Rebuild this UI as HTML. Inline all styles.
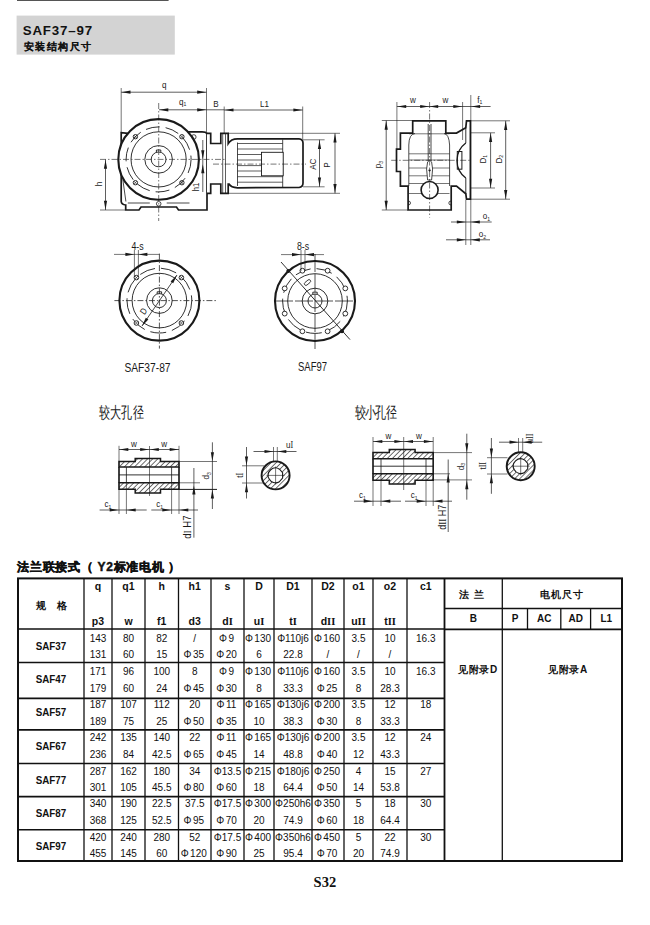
<!DOCTYPE html>
<html><head><meta charset="utf-8"><style>
html,body{margin:0;padding:0;background:#fff;}
body{width:650px;height:925px;overflow:hidden;font-family:"Liberation Sans",sans-serif;}
svg{display:block;}
</style></head><body>
<svg width="650" height="925" viewBox="0 0 650 925">
<g stroke="#111" fill="none">
<rect x="18" y="578.4" width="604" height="282.6" stroke-width="2"/>
<line x1="84" y1="578.4" x2="84" y2="861" stroke-width="1.3"/>
<line x1="112" y1="578.4" x2="112" y2="861" stroke-width="1.3"/>
<line x1="145" y1="578.4" x2="145" y2="861" stroke-width="1.3"/>
<line x1="178.5" y1="578.4" x2="178.5" y2="861" stroke-width="1.3"/>
<line x1="211" y1="578.4" x2="211" y2="861" stroke-width="1.3"/>
<line x1="244" y1="578.4" x2="244" y2="861" stroke-width="1.3"/>
<line x1="274" y1="578.4" x2="274" y2="861" stroke-width="1.3"/>
<line x1="312" y1="578.4" x2="312" y2="861" stroke-width="1.3"/>
<line x1="344" y1="578.4" x2="344" y2="861" stroke-width="1.3"/>
<line x1="373" y1="578.4" x2="373" y2="861" stroke-width="1.3"/>
<line x1="407" y1="578.4" x2="407" y2="861" stroke-width="1.3"/>
<line x1="444.5" y1="578.4" x2="444.5" y2="861" stroke-width="1.3"/>
<line x1="444.5" y1="578.4" x2="444.5" y2="861" stroke-width="1.6"/>
<line x1="502.3" y1="578.4" x2="502.3" y2="861" stroke-width="1.3"/>
<line x1="18" y1="629" x2="444.5" y2="629" stroke-width="1.6"/>
<line x1="18" y1="662.5" x2="444.5" y2="662.5" stroke-width="1.6"/>
<line x1="18" y1="698.4" x2="444.5" y2="698.4" stroke-width="1.6"/>
<line x1="18" y1="729.9" x2="444.5" y2="729.9" stroke-width="1.6"/>
<line x1="18" y1="763.5" x2="444.5" y2="763.5" stroke-width="1.6"/>
<line x1="18" y1="796.6" x2="444.5" y2="796.6" stroke-width="1.6"/>
<line x1="18" y1="829.7" x2="444.5" y2="829.7" stroke-width="1.6"/>
<line x1="444.5" y1="629.4" x2="622" y2="629.4" stroke-width="1.6"/>
<line x1="444.5" y1="608.5" x2="622" y2="608.5" stroke-width="1.3"/>
<line x1="527.5" y1="608.5" x2="527.5" y2="629.4" stroke-width="1.3"/>
<line x1="560.8" y1="608.5" x2="560.8" y2="629.4" stroke-width="1.3"/>
<line x1="590.6" y1="608.5" x2="590.6" y2="629.4" stroke-width="1.3"/>
</g>
<g font-family="Liberation Sans, sans-serif" fill="#111" text-anchor="middle">
<text x="41" y="609" font-size="10" font-weight="bold">规</text>
<text x="61.8" y="609" font-size="10" font-weight="bold">格</text>
<text x="98.0" y="590" font-size="10.5" font-weight="bold">q</text>
<text x="98.0" y="624.7" font-size="10.5" font-weight="bold">p3</text>
<text x="128.5" y="590" font-size="10.5" font-weight="bold">q1</text>
<text x="128.5" y="624.7" font-size="10.5" font-weight="bold">w</text>
<text x="161.75" y="590" font-size="10.5" font-weight="bold">h</text>
<text x="161.75" y="624.7" font-size="10.5" font-weight="bold">f1</text>
<text x="194.75" y="590" font-size="10.5" font-weight="bold">h1</text>
<text x="194.75" y="624.7" font-size="10.5" font-weight="bold">d3</text>
<text x="227.5" y="590" font-size="10.5" font-weight="bold">s</text>
<text x="227.5" y="624.7" font-size="10.5" font-weight="bold">d<tspan font-family='Liberation Serif, serif'>I</tspan></text>
<text x="259.0" y="590" font-size="10.5" font-weight="bold">D</text>
<text x="259.0" y="624.7" font-size="10.5" font-weight="bold">u<tspan font-family='Liberation Serif, serif'>I</tspan></text>
<text x="293.0" y="590" font-size="10.5" font-weight="bold">D1</text>
<text x="293.0" y="624.7" font-size="10.5" font-weight="bold">t<tspan font-family='Liberation Serif, serif'>I</tspan></text>
<text x="328.0" y="590" font-size="10.5" font-weight="bold">D2</text>
<text x="328.0" y="624.7" font-size="10.5" font-weight="bold">d<tspan font-family='Liberation Serif, serif'>II</tspan></text>
<text x="358.5" y="590" font-size="10.5" font-weight="bold">o1</text>
<text x="358.5" y="624.7" font-size="10.5" font-weight="bold">u<tspan font-family='Liberation Serif, serif'>II</tspan></text>
<text x="390.0" y="590" font-size="10.5" font-weight="bold">o2</text>
<text x="390.0" y="624.7" font-size="10.5" font-weight="bold">t<tspan font-family='Liberation Serif, serif'>II</tspan></text>
<text x="425.75" y="590" font-size="10.5" font-weight="bold">c1</text>
<text x="473.5" y="598" font-size="10" font-weight="bold" letter-spacing="5">法兰</text>
<text x="562" y="598" font-size="10" font-weight="bold" letter-spacing="1">电机尺寸</text>
<text x="473.4" y="622.3" font-size="10" font-weight="bold">B</text>
<text x="515" y="622.3" font-size="10" font-weight="bold">P</text>
<text x="544.2" y="622.3" font-size="10" font-weight="bold">AC</text>
<text x="575.7" y="622.3" font-size="10" font-weight="bold">AD</text>
<text x="606.3" y="622.3" font-size="10" font-weight="bold">L1</text>
<text x="478" y="673" font-size="10" font-weight="bold" letter-spacing="0.6">见附录D</text>
<text x="568" y="673" font-size="10" font-weight="bold" letter-spacing="0.6">见附录A</text>
<text x="51" y="649.5" font-size="10" font-weight="bold" textLength="30.5" lengthAdjust="spacingAndGlyphs">SAF37</text>
<text x="98.0" y="641.5" font-size="10">143</text>
<text x="98.0" y="658.4" font-size="10">131</text>
<text x="128.5" y="641.5" font-size="10">80</text>
<text x="128.5" y="658.4" font-size="10">60</text>
<text x="161.75" y="641.5" font-size="10">82</text>
<text x="161.75" y="658.4" font-size="10">15</text>
<text x="194.75" y="641.5" font-size="10">/</text>
<text x="193.75" y="658.4" font-size="10">Φ<tspan dx="1.4">35</tspan></text>
<text x="226.5" y="641.5" font-size="10">Φ<tspan dx="1.4">9</tspan></text>
<text x="226.5" y="658.4" font-size="10">Φ<tspan dx="1.4">20</tspan></text>
<text x="258.0" y="641.5" font-size="10">Φ<tspan dx="1.4">130</tspan></text>
<text x="259.0" y="658.4" font-size="10">6</text>
<text x="293.0" y="641.5" font-size="10">Φ110j6</text>
<text x="293.0" y="658.4" font-size="10">22.8</text>
<text x="327.0" y="641.5" font-size="10">Φ<tspan dx="1.4">160</tspan></text>
<text x="328.0" y="658.4" font-size="10">/</text>
<text x="358.5" y="641.5" font-size="10">3.5</text>
<text x="358.5" y="658.4" font-size="10">/</text>
<text x="390.0" y="641.5" font-size="10">10</text>
<text x="390.0" y="658.4" font-size="10">/</text>
<text x="425.75" y="641.5" font-size="10">16.3</text>
<text x="51" y="682.8" font-size="10" font-weight="bold" textLength="30.5" lengthAdjust="spacingAndGlyphs">SAF47</text>
<text x="98.0" y="674.8" font-size="10">171</text>
<text x="98.0" y="691.6" font-size="10">179</text>
<text x="128.5" y="674.8" font-size="10">96</text>
<text x="128.5" y="691.6" font-size="10">60</text>
<text x="161.75" y="674.8" font-size="10">100</text>
<text x="161.75" y="691.6" font-size="10">24</text>
<text x="194.75" y="674.8" font-size="10">8</text>
<text x="193.75" y="691.6" font-size="10">Φ<tspan dx="1.4">45</tspan></text>
<text x="226.5" y="674.8" font-size="10">Φ<tspan dx="1.4">9</tspan></text>
<text x="226.5" y="691.6" font-size="10">Φ<tspan dx="1.4">30</tspan></text>
<text x="258.0" y="674.8" font-size="10">Φ<tspan dx="1.4">130</tspan></text>
<text x="259.0" y="691.6" font-size="10">8</text>
<text x="293.0" y="674.8" font-size="10">Φ110j6</text>
<text x="293.0" y="691.6" font-size="10">33.3</text>
<text x="327.0" y="674.8" font-size="10">Φ<tspan dx="1.4">160</tspan></text>
<text x="327.0" y="691.6" font-size="10">Φ<tspan dx="1.4">25</tspan></text>
<text x="358.5" y="674.8" font-size="10">3.5</text>
<text x="358.5" y="691.6" font-size="10">8</text>
<text x="390.0" y="674.8" font-size="10">10</text>
<text x="390.0" y="691.6" font-size="10">28.3</text>
<text x="425.75" y="674.8" font-size="10">16.3</text>
<text x="51" y="716" font-size="10" font-weight="bold" textLength="30.5" lengthAdjust="spacingAndGlyphs">SAF57</text>
<text x="98.0" y="708.3" font-size="10">187</text>
<text x="98.0" y="724.7" font-size="10">189</text>
<text x="128.5" y="708.3" font-size="10">107</text>
<text x="128.5" y="724.7" font-size="10">75</text>
<text x="161.75" y="708.3" font-size="10">112</text>
<text x="161.75" y="724.7" font-size="10">25</text>
<text x="194.75" y="708.3" font-size="10">20</text>
<text x="193.75" y="724.7" font-size="10">Φ<tspan dx="1.4">50</tspan></text>
<text x="226.5" y="708.3" font-size="10">Φ<tspan dx="1.4">11</tspan></text>
<text x="226.5" y="724.7" font-size="10">Φ<tspan dx="1.4">35</tspan></text>
<text x="258.0" y="708.3" font-size="10">Φ<tspan dx="1.4">165</tspan></text>
<text x="259.0" y="724.7" font-size="10">10</text>
<text x="293.0" y="708.3" font-size="10">Φ130j6</text>
<text x="293.0" y="724.7" font-size="10">38.3</text>
<text x="327.0" y="708.3" font-size="10">Φ<tspan dx="1.4">200</tspan></text>
<text x="327.0" y="724.7" font-size="10">Φ<tspan dx="1.4">30</tspan></text>
<text x="358.5" y="708.3" font-size="10">3.5</text>
<text x="358.5" y="724.7" font-size="10">8</text>
<text x="390.0" y="708.3" font-size="10">12</text>
<text x="390.0" y="724.7" font-size="10">33.3</text>
<text x="425.75" y="708.3" font-size="10">18</text>
<text x="51" y="750" font-size="10" font-weight="bold" textLength="30.5" lengthAdjust="spacingAndGlyphs">SAF67</text>
<text x="98.0" y="741.4" font-size="10">242</text>
<text x="98.0" y="757.9" font-size="10">236</text>
<text x="128.5" y="741.4" font-size="10">135</text>
<text x="128.5" y="757.9" font-size="10">84</text>
<text x="161.75" y="741.4" font-size="10">140</text>
<text x="161.75" y="757.9" font-size="10">42.5</text>
<text x="194.75" y="741.4" font-size="10">22</text>
<text x="193.75" y="757.9" font-size="10">Φ<tspan dx="1.4">65</tspan></text>
<text x="226.5" y="741.4" font-size="10">Φ<tspan dx="1.4">11</tspan></text>
<text x="226.5" y="757.9" font-size="10">Φ<tspan dx="1.4">45</tspan></text>
<text x="258.0" y="741.4" font-size="10">Φ<tspan dx="1.4">165</tspan></text>
<text x="259.0" y="757.9" font-size="10">14</text>
<text x="293.0" y="741.4" font-size="10">Φ130j6</text>
<text x="293.0" y="757.9" font-size="10">48.8</text>
<text x="327.0" y="741.4" font-size="10">Φ<tspan dx="1.4">200</tspan></text>
<text x="327.0" y="757.9" font-size="10">Φ<tspan dx="1.4">40</tspan></text>
<text x="358.5" y="741.4" font-size="10">3.5</text>
<text x="358.5" y="757.9" font-size="10">12</text>
<text x="390.0" y="741.4" font-size="10">12</text>
<text x="390.0" y="757.9" font-size="10">43.3</text>
<text x="425.75" y="741.4" font-size="10">24</text>
<text x="51" y="784" font-size="10" font-weight="bold" textLength="30.5" lengthAdjust="spacingAndGlyphs">SAF77</text>
<text x="98.0" y="774.6" font-size="10">287</text>
<text x="98.0" y="791.3" font-size="10">301</text>
<text x="128.5" y="774.6" font-size="10">162</text>
<text x="128.5" y="791.3" font-size="10">105</text>
<text x="161.75" y="774.6" font-size="10">180</text>
<text x="161.75" y="791.3" font-size="10">45.5</text>
<text x="194.75" y="774.6" font-size="10">34</text>
<text x="193.75" y="791.3" font-size="10">Φ<tspan dx="1.4">80</tspan></text>
<text x="227.5" y="774.6" font-size="10">Φ13.5</text>
<text x="226.5" y="791.3" font-size="10">Φ<tspan dx="1.4">60</tspan></text>
<text x="258.0" y="774.6" font-size="10">Φ<tspan dx="1.4">215</tspan></text>
<text x="259.0" y="791.3" font-size="10">18</text>
<text x="293.0" y="774.6" font-size="10">Φ180j6</text>
<text x="293.0" y="791.3" font-size="10">64.4</text>
<text x="327.0" y="774.6" font-size="10">Φ<tspan dx="1.4">250</tspan></text>
<text x="327.0" y="791.3" font-size="10">Φ<tspan dx="1.4">50</tspan></text>
<text x="358.5" y="774.6" font-size="10">4</text>
<text x="358.5" y="791.3" font-size="10">14</text>
<text x="390.0" y="774.6" font-size="10">15</text>
<text x="390.0" y="791.3" font-size="10">53.8</text>
<text x="425.75" y="774.6" font-size="10">27</text>
<text x="51" y="817" font-size="10" font-weight="bold" textLength="30.5" lengthAdjust="spacingAndGlyphs">SAF87</text>
<text x="98.0" y="807.4" font-size="10">340</text>
<text x="98.0" y="823.8" font-size="10">368</text>
<text x="128.5" y="807.4" font-size="10">190</text>
<text x="128.5" y="823.8" font-size="10">125</text>
<text x="161.75" y="807.4" font-size="10">22.5</text>
<text x="161.75" y="823.8" font-size="10">52.5</text>
<text x="194.75" y="807.4" font-size="10">37.5</text>
<text x="193.75" y="823.8" font-size="10">Φ<tspan dx="1.4">95</tspan></text>
<text x="227.5" y="807.4" font-size="10">Φ17.5</text>
<text x="226.5" y="823.8" font-size="10">Φ<tspan dx="1.4">70</tspan></text>
<text x="258.0" y="807.4" font-size="10">Φ<tspan dx="1.4">300</tspan></text>
<text x="259.0" y="823.8" font-size="10">20</text>
<text x="293.0" y="807.4" font-size="10">Φ250h6</text>
<text x="293.0" y="823.8" font-size="10">74.9</text>
<text x="327.0" y="807.4" font-size="10">Φ<tspan dx="1.4">350</tspan></text>
<text x="327.0" y="823.8" font-size="10">Φ<tspan dx="1.4">60</tspan></text>
<text x="358.5" y="807.4" font-size="10">5</text>
<text x="358.5" y="823.8" font-size="10">18</text>
<text x="390.0" y="807.4" font-size="10">18</text>
<text x="390.0" y="823.8" font-size="10">64.4</text>
<text x="425.75" y="807.4" font-size="10">30</text>
<text x="51" y="850" font-size="10" font-weight="bold" textLength="30.5" lengthAdjust="spacingAndGlyphs">SAF97</text>
<text x="98.0" y="840.9" font-size="10">420</text>
<text x="98.0" y="857.3" font-size="10">455</text>
<text x="128.5" y="840.9" font-size="10">240</text>
<text x="128.5" y="857.3" font-size="10">145</text>
<text x="161.75" y="840.9" font-size="10">280</text>
<text x="161.75" y="857.3" font-size="10">60</text>
<text x="194.75" y="840.9" font-size="10">52</text>
<text x="193.75" y="857.3" font-size="10">Φ<tspan dx="1.4">120</tspan></text>
<text x="227.5" y="840.9" font-size="10">Φ17.5</text>
<text x="226.5" y="857.3" font-size="10">Φ<tspan dx="1.4">90</tspan></text>
<text x="258.0" y="840.9" font-size="10">Φ<tspan dx="1.4">400</tspan></text>
<text x="259.0" y="857.3" font-size="10">25</text>
<text x="293.0" y="840.9" font-size="10">Φ350h6</text>
<text x="293.0" y="857.3" font-size="10">95.4</text>
<text x="327.0" y="840.9" font-size="10">Φ<tspan dx="1.4">450</tspan></text>
<text x="327.0" y="857.3" font-size="10">Φ<tspan dx="1.4">70</tspan></text>
<text x="358.5" y="840.9" font-size="10">5</text>
<text x="358.5" y="857.3" font-size="10">20</text>
<text x="390.0" y="840.9" font-size="10">22</text>
<text x="390.0" y="857.3" font-size="10">74.9</text>
<text x="425.75" y="840.9" font-size="10">30</text>
</g>
<line x1="17" y1="0.5" x2="168.6" y2="0.5" stroke="#555" stroke-width="1.2"/>
<rect x="16.6" y="15.6" width="158.2" height="39" fill="#d3d3d3"/>
<text x="22.7" y="35.2" font-family="Liberation Sans, sans-serif" font-size="13.3" font-weight="bold" fill="#111" letter-spacing="0.85">SAF37–97</text>
<text x="23.8" y="49.5" font-family="Liberation Sans, sans-serif" font-size="9.5" font-weight="bold" fill="#111" stroke="#111" stroke-width="0.1" letter-spacing="1.5">安装结构尺寸</text>
<text x="17.3" y="570.5" font-family="Liberation Sans, sans-serif" font-size="12" font-weight="bold" fill="#111" stroke="#111" stroke-width="0.45" letter-spacing="0.7">法兰联接式（ Y2标准电机 ）</text>
<text x="313.6" y="887" font-family="Liberation Serif, serif" font-size="14.5" font-weight="bold" fill="#111">S32</text>
<path d="M128.2 133.3 L121.2 132.6 L121.2 201.5 Q121.5 204.5 125.7 205 L125.7 210 L139 210 L141 207 L176.5 207 L178.5 210 L207 210 L207 133.6 Q206 131.9 202 131.9 L187.8 131.9" stroke="#1a1a1a" stroke-width="1.7" fill="#fff" />
<line x1="122.8" y1="179.4" x2="125.9" y2="201.5" stroke="#1a1a1a" stroke-width="0.8"/>
<circle cx="158.6" cy="159.4" r="40.3" stroke="#1a1a1a" stroke-width="2.1" fill="#fff"/>
<circle cx="158.6" cy="159.4" r="27.6" stroke="#1a1a1a" stroke-width="0.9" fill="none"/>
<circle cx="158.6" cy="159.4" r="32.5" stroke="#1a1a1a" stroke-width="0.9" fill="none" stroke-dasharray="14 6"/>
<circle cx="158.6" cy="159.4" r="13.8" stroke="#1a1a1a" stroke-width="0.9" fill="none"/>
<circle cx="158.6" cy="159.4" r="7.4" stroke="#1a1a1a" stroke-width="0.9" fill="none"/>
<path d="M156.4 152.2 L156.4 150 L160.8 150 L160.8 152.2" stroke="#1a1a1a" stroke-width="0.9" fill="none" />
<circle cx="135.4" cy="136.7" r="2.2" stroke="#1a1a1a" stroke-width="0.9" fill="none"/>
<line x1="133.8" y1="135.1" x2="137.0" y2="138.3" stroke="#1a1a1a" stroke-width="0.6"/>
<line x1="133.8" y1="138.3" x2="137.0" y2="135.1" stroke="#1a1a1a" stroke-width="0.6"/>
<circle cx="181.9" cy="136.7" r="2.2" stroke="#1a1a1a" stroke-width="0.9" fill="none"/>
<line x1="180.3" y1="135.1" x2="183.5" y2="138.3" stroke="#1a1a1a" stroke-width="0.6"/>
<line x1="180.3" y1="138.3" x2="183.5" y2="135.1" stroke="#1a1a1a" stroke-width="0.6"/>
<circle cx="135.4" cy="182.7" r="2.2" stroke="#1a1a1a" stroke-width="0.9" fill="none"/>
<line x1="133.8" y1="181.1" x2="137.0" y2="184.3" stroke="#1a1a1a" stroke-width="0.6"/>
<line x1="133.8" y1="184.3" x2="137.0" y2="181.1" stroke="#1a1a1a" stroke-width="0.6"/>
<circle cx="181.9" cy="182.7" r="2.2" stroke="#1a1a1a" stroke-width="0.9" fill="none"/>
<line x1="180.3" y1="181.1" x2="183.5" y2="184.3" stroke="#1a1a1a" stroke-width="0.6"/>
<line x1="180.3" y1="184.3" x2="183.5" y2="181.1" stroke="#1a1a1a" stroke-width="0.6"/>
<circle cx="193.8" cy="137.0" r="2.3" stroke="#1a1a1a" stroke-width="0.8" fill="none"/>
<circle cx="158.7" cy="203.8" r="2.3" stroke="#1a1a1a" stroke-width="0.8" fill="none"/>
<line x1="127.8" y1="203.0" x2="149.8" y2="203.0" stroke="#1a1a1a" stroke-width="0.8"/>
<line x1="166.7" y1="203.0" x2="189.5" y2="203.0" stroke="#1a1a1a" stroke-width="0.8"/>
<path d="M207 133.3 L210.7 133.3 L210.7 143.5 L220.8 143.5 L220.8 133.3 L228.2 133.3 L228.2 143.5 Q231 138.8 237.5 138.8 L299 138.8 Q303 139 303 143 L303 183 Q303 187 299 187.5 L237.5 187.8 Q231 187.5 229 184 L228.2 184 L228.2 193.3 L220.8 193.3 L220.8 184 L210.7 184 L210.7 193.3 L207 193.3" stroke="#1a1a1a" stroke-width="1.7" fill="#fff" />
<line x1="222.7" y1="134.0" x2="222.7" y2="193.0" stroke="#1a1a1a" stroke-width="0.7"/>
<line x1="225.5" y1="134.0" x2="225.5" y2="193.0" stroke="#1a1a1a" stroke-width="0.7"/>
<line x1="237.5" y1="142.5" x2="237.5" y2="186.0" stroke="#1a1a1a" stroke-width="0.8"/>
<line x1="237.5" y1="143.5" x2="282.7" y2="143.5" stroke="#1a1a1a" stroke-width="0.7"/>
<line x1="237.5" y1="149.0" x2="282.7" y2="149.0" stroke="#1a1a1a" stroke-width="0.7"/>
<line x1="237.5" y1="154.5" x2="282.7" y2="154.5" stroke="#1a1a1a" stroke-width="0.7"/>
<line x1="237.5" y1="160.0" x2="282.7" y2="160.0" stroke="#1a1a1a" stroke-width="0.7"/>
<line x1="237.5" y1="165.6" x2="282.7" y2="165.6" stroke="#1a1a1a" stroke-width="0.7"/>
<line x1="237.5" y1="171.0" x2="282.7" y2="171.0" stroke="#1a1a1a" stroke-width="0.7"/>
<line x1="237.5" y1="176.7" x2="282.7" y2="176.7" stroke="#1a1a1a" stroke-width="0.7"/>
<line x1="237.5" y1="182.2" x2="282.7" y2="182.2" stroke="#1a1a1a" stroke-width="0.7"/>
<line x1="282.7" y1="139.5" x2="282.7" y2="187.0" stroke="#1a1a1a" stroke-width="0.8"/>
<rect x="261.5" y="152.3" width="21.7" height="23.5" fill="#fff" stroke="#1a1a1a" stroke-width="0.9"/>
<line x1="100.0" y1="159.4" x2="225.0" y2="159.4" stroke="#1a1a1a" stroke-width="0.6" stroke-dasharray="6 2 1.5 2"/>
<line x1="213.0" y1="164.1" x2="306.0" y2="164.1" stroke="#1a1a1a" stroke-width="0.6" stroke-dasharray="6 2 1.5 2"/>
<line x1="158.7" y1="103.0" x2="158.7" y2="221.0" stroke="#1a1a1a" stroke-width="0.6" stroke-dasharray="6 2 1.5 2"/>
<line x1="121.2" y1="88.0" x2="121.2" y2="132.5" stroke="#1a1a1a" stroke-width="0.6"/>
<line x1="206.5" y1="88.0" x2="206.5" y2="132.0" stroke="#1a1a1a" stroke-width="0.6"/>
<line x1="121.2" y1="92.2" x2="206.5" y2="92.2" stroke="#1a1a1a" stroke-width="0.7"/>
<path d="M121.5 92.2 L130.5 90.6 L130.5 93.8 Z" fill="#1a1a1a"/>
<path d="M206.2 92.2 L197.2 93.8 L197.2 90.6 Z" fill="#1a1a1a"/>
<text transform="translate(164.3,87.5) scale(0.85,1)" font-family="Liberation Sans, sans-serif" font-size="9.5" font-weight="normal" text-anchor="middle" fill="#1a1a1a">q</text>
<line x1="159.0" y1="109.8" x2="224.2" y2="109.8" stroke="#1a1a1a" stroke-width="0.7"/>
<path d="M159.3 109.8 L168.3 108.2 L168.3 111.4 Z" fill="#1a1a1a"/>
<path d="M206.2 109.8 L197.2 111.4 L197.2 108.2 Z" fill="#1a1a1a"/>
<text transform="translate(182.6,104.5) scale(0.85,1)" font-family="Liberation Sans, sans-serif" font-size="9.5" font-weight="normal" text-anchor="middle" fill="#1a1a1a">q<tspan font-size='6' dy='1.5'>1</tspan></text>
<text transform="translate(216.0,107.0) scale(0.85,1)" font-family="Liberation Sans, sans-serif" font-size="9.5" font-weight="normal" text-anchor="middle" fill="#1a1a1a">B</text>
<line x1="224.2" y1="106.5" x2="224.2" y2="134.0" stroke="#1a1a1a" stroke-width="0.6"/>
<line x1="302.7" y1="106.5" x2="302.7" y2="139.5" stroke="#1a1a1a" stroke-width="0.6"/>
<line x1="224.2" y1="110.0" x2="302.7" y2="110.0" stroke="#1a1a1a" stroke-width="0.7"/>
<path d="M224.5 110.0 L233.5 108.4 L233.5 111.6 Z" fill="#1a1a1a"/>
<path d="M302.4 110.0 L293.4 111.6 L293.4 108.4 Z" fill="#1a1a1a"/>
<text transform="translate(264.6,107.0) scale(0.85,1)" font-family="Liberation Sans, sans-serif" font-size="9.5" font-weight="normal" text-anchor="middle" fill="#1a1a1a">L1</text>
<line x1="100.0" y1="210.0" x2="125.0" y2="210.0" stroke="#1a1a1a" stroke-width="0.6"/>
<line x1="105.5" y1="159.4" x2="105.5" y2="210.0" stroke="#1a1a1a" stroke-width="0.7"/>
<path d="M105.5 159.7 L107.1 168.7 L103.9 168.7 Z" fill="#1a1a1a"/>
<path d="M105.5 209.7 L103.9 200.7 L107.1 200.7 Z" fill="#1a1a1a"/>
<text transform="translate(101.5,184.0) rotate(-90) scale(0.85,1)" font-family="Liberation Sans, sans-serif" font-size="9.5" font-weight="normal" text-anchor="middle" fill="#1a1a1a">h</text>
<line x1="202.8" y1="140.0" x2="202.8" y2="192.0" stroke="#1a1a1a" stroke-width="0.7"/>
<path d="M202.8 159.2 L201.2 150.2 L204.4 150.2 Z" fill="#1a1a1a"/>
<path d="M202.8 164.3 L204.4 173.3 L201.2 173.3 Z" fill="#1a1a1a"/>
<text transform="translate(198.5,187.0) rotate(-90) scale(0.85,1)" font-family="Liberation Sans, sans-serif" font-size="9" font-weight="normal" text-anchor="middle" fill="#1a1a1a">h1</text>
<line x1="228.2" y1="133.3" x2="340.0" y2="133.3" stroke="#1a1a1a" stroke-width="0.6"/>
<line x1="228.2" y1="193.3" x2="340.0" y2="193.3" stroke="#1a1a1a" stroke-width="0.6"/>
<line x1="303.0" y1="139.8" x2="324.6" y2="139.8" stroke="#1a1a1a" stroke-width="0.6"/>
<line x1="303.0" y1="186.8" x2="324.6" y2="186.8" stroke="#1a1a1a" stroke-width="0.6"/>
<line x1="319.5" y1="139.8" x2="319.5" y2="186.8" stroke="#1a1a1a" stroke-width="0.7"/>
<path d="M319.5 140.1 L321.1 149.1 L317.9 149.1 Z" fill="#1a1a1a"/>
<path d="M319.5 186.5 L317.9 177.5 L321.1 177.5 Z" fill="#1a1a1a"/>
<text transform="translate(315.5,164.2) rotate(-90) scale(0.85,1)" font-family="Liberation Sans, sans-serif" font-size="9.5" font-weight="normal" text-anchor="middle" fill="#1a1a1a">AC</text>
<line x1="335.0" y1="133.3" x2="335.0" y2="193.3" stroke="#1a1a1a" stroke-width="0.7"/>
<path d="M335.0 133.6 L336.6 142.6 L333.4 142.6 Z" fill="#1a1a1a"/>
<path d="M335.0 193.0 L333.4 184.0 L336.6 184.0 Z" fill="#1a1a1a"/>
<text transform="translate(330.0,165.0) rotate(-90) scale(0.85,1)" font-family="Liberation Sans, sans-serif" font-size="9.5" font-weight="normal" text-anchor="middle" fill="#1a1a1a">P</text>
<path d="M412.7 120.8 L445.8 120.8 L445.8 133.1 L456.5 133.1 L465.8 127.7 L466.5 120.8 L470.4 120.8 L470.4 199.2 L466.5 199.2 L465.8 193.8 L456.5 186.2 L451.2 186.2 L451.2 210 L408.1 210 L408.1 186.2 L400.4 186.2 L400.4 171.5 L396.5 171.5 L396.5 149.2 L400.4 149.2 L400.4 133.1 L412.7 133.1 Z" stroke="#1a1a1a" stroke-width="1.7" fill="#fff" />
<path d="M465.8 143 A21.8 21.8 0 0 0 465.8 178" stroke="#1a1a1a" stroke-width="1.3" fill="none" />
<line x1="465.8" y1="127.7" x2="465.8" y2="143.0" stroke="#1a1a1a" stroke-width="0.9"/>
<line x1="465.8" y1="178.0" x2="465.8" y2="193.8" stroke="#1a1a1a" stroke-width="0.9"/>
<rect x="457.3" y="151.5" width="4.6" height="17.7" fill="none" stroke="#1a1a1a" stroke-width="1"/>
<path d="M408.8 186 L408.8 145 Q409 134 415 133.5 M449.6 186 L449.6 145 Q449 134 444 133.5" stroke="#1a1a1a" stroke-width="0.8" fill="none" />
<line x1="409.0" y1="133.8" x2="449.5" y2="133.8" stroke="#1a1a1a" stroke-width="0.6"/>
<line x1="409.0" y1="153.8" x2="449.5" y2="153.8" stroke="#1a1a1a" stroke-width="0.6"/>
<line x1="409.0" y1="160.0" x2="449.5" y2="160.0" stroke="#1a1a1a" stroke-width="0.6"/>
<line x1="409.0" y1="168.0" x2="449.5" y2="168.0" stroke="#1a1a1a" stroke-width="0.6"/>
<line x1="409.0" y1="175.8" x2="449.5" y2="175.8" stroke="#1a1a1a" stroke-width="0.6"/>
<line x1="409.0" y1="183.5" x2="449.5" y2="183.5" stroke="#1a1a1a" stroke-width="0.6"/>
<line x1="409.0" y1="193.5" x2="449.5" y2="193.5" stroke="#1a1a1a" stroke-width="0.6"/>
<line x1="428.2" y1="124.0" x2="428.2" y2="162.0" stroke="#1a1a1a" stroke-width="0.8"/>
<line x1="431.0" y1="124.0" x2="431.0" y2="162.0" stroke="#1a1a1a" stroke-width="0.8"/>
<path d="M427.6 162 L426.6 169 L427.6 180 L431.6 180 L432.6 169 L431.6 162" stroke="#1a1a1a" stroke-width="0.8" fill="#fff" />
<circle cx="429.6" cy="170.3" r="0.9" stroke="#1a1a1a" stroke-width="0.5" fill="#1a1a1a"/>
<circle cx="429.6" cy="190.0" r="8.5" stroke="#1a1a1a" stroke-width="1.6" fill="#fff"/>
<path d="M408.1 201 Q410.5 201 410.5 203 Q410.5 205 408.1 205" stroke="#1a1a1a" stroke-width="0.8" fill="none" />
<path d="M451.2 201 Q448.8 201 448.8 203 Q448.8 205 451.2 205" stroke="#1a1a1a" stroke-width="0.8" fill="none" />
<line x1="429.6" y1="102.0" x2="429.6" y2="217.5" stroke="#1a1a1a" stroke-width="0.6" stroke-dasharray="6 2 1.5 2"/>
<line x1="391.2" y1="160.3" x2="471.0" y2="160.3" stroke="#1a1a1a" stroke-width="0.6" stroke-dasharray="6 2 1.5 2"/>
<line x1="396.9" y1="102.0" x2="396.9" y2="150.0" stroke="#1a1a1a" stroke-width="0.6"/>
<line x1="462.6" y1="102.0" x2="462.6" y2="140.0" stroke="#1a1a1a" stroke-width="0.6"/>
<line x1="470.8" y1="95.0" x2="470.8" y2="245.0" stroke="#1a1a1a" stroke-width="0.6"/>
<line x1="465.8" y1="200.0" x2="465.8" y2="245.0" stroke="#1a1a1a" stroke-width="0.6"/>
<line x1="396.9" y1="106.5" x2="490.6" y2="106.5" stroke="#1a1a1a" stroke-width="0.7"/>
<path d="M397.2 106.5 L406.2 104.9 L406.2 108.1 Z" fill="#1a1a1a"/>
<path d="M429.2 106.5 L420.2 108.1 L420.2 104.9 Z" fill="#1a1a1a"/>
<path d="M429.2 106.5 L438.2 104.9 L438.2 108.1 Z" fill="#1a1a1a"/>
<path d="M462.3 106.5 L453.3 108.1 L453.3 104.9 Z" fill="#1a1a1a"/>
<path d="M471.1 106.5 L480.1 104.9 L480.1 108.1 Z" fill="#1a1a1a"/>
<text transform="translate(413.0,102.5) scale(0.95,1)" font-family="Liberation Sans, sans-serif" font-size="8.5" font-weight="normal" text-anchor="middle" fill="#1a1a1a">w</text>
<text transform="translate(445.4,102.5) scale(0.95,1)" font-family="Liberation Sans, sans-serif" font-size="8.5" font-weight="normal" text-anchor="middle" fill="#1a1a1a">w</text>
<text transform="translate(479.8,102.5) scale(0.85,1)" font-family="Liberation Sans, sans-serif" font-size="9.5" font-weight="normal" text-anchor="middle" fill="#1a1a1a">f<tspan font-size='6' dy='1.5'>1</tspan></text>
<line x1="381.8" y1="120.5" x2="413.0" y2="120.5" stroke="#1a1a1a" stroke-width="0.6"/>
<line x1="381.8" y1="210.0" x2="408.0" y2="210.0" stroke="#1a1a1a" stroke-width="0.6"/>
<line x1="386.2" y1="120.5" x2="386.2" y2="210.0" stroke="#1a1a1a" stroke-width="0.7"/>
<path d="M386.2 120.8 L387.8 129.8 L384.6 129.8 Z" fill="#1a1a1a"/>
<path d="M386.2 209.7 L384.6 200.7 L387.8 200.7 Z" fill="#1a1a1a"/>
<text transform="translate(381.0,164.7) rotate(-90) scale(0.85,1)" font-family="Liberation Sans, sans-serif" font-size="9.5" font-weight="normal" text-anchor="middle" fill="#1a1a1a">p<tspan font-size='6' dy='1.5'>3</tspan></text>
<line x1="470.4" y1="120.8" x2="510.0" y2="120.8" stroke="#1a1a1a" stroke-width="0.6"/>
<line x1="470.4" y1="132.8" x2="495.0" y2="132.8" stroke="#1a1a1a" stroke-width="0.6"/>
<line x1="470.4" y1="188.0" x2="495.0" y2="188.0" stroke="#1a1a1a" stroke-width="0.6"/>
<line x1="470.4" y1="199.2" x2="510.0" y2="199.2" stroke="#1a1a1a" stroke-width="0.6"/>
<line x1="490.6" y1="132.8" x2="490.6" y2="188.0" stroke="#1a1a1a" stroke-width="0.7"/>
<path d="M490.6 133.1 L492.2 142.1 L489.0 142.1 Z" fill="#1a1a1a"/>
<path d="M490.6 187.7 L489.0 178.7 L492.2 178.7 Z" fill="#1a1a1a"/>
<text transform="translate(485.5,159.3) rotate(-90) scale(0.85,1)" font-family="Liberation Sans, sans-serif" font-size="9.5" font-weight="normal" text-anchor="middle" fill="#1a1a1a">D<tspan font-size='6' dy='1.5'>1</tspan></text>
<line x1="505.7" y1="120.8" x2="505.7" y2="199.2" stroke="#1a1a1a" stroke-width="0.7"/>
<path d="M505.7 121.1 L507.3 130.1 L504.1 130.1 Z" fill="#1a1a1a"/>
<path d="M505.7 198.9 L504.1 189.9 L507.3 189.9 Z" fill="#1a1a1a"/>
<text transform="translate(501.5,159.3) rotate(-90) scale(0.85,1)" font-family="Liberation Sans, sans-serif" font-size="9.5" font-weight="normal" text-anchor="middle" fill="#1a1a1a">D<tspan font-size='6' dy='1.5'>2</tspan></text>
<line x1="451.0" y1="222.0" x2="491.7" y2="222.0" stroke="#1a1a1a" stroke-width="0.7"/>
<path d="M465.8 222.0 L456.8 223.6 L456.8 220.4 Z" fill="#1a1a1a"/>
<path d="M470.8 222.0 L479.8 220.4 L479.8 223.6 Z" fill="#1a1a1a"/>
<text transform="translate(486.5,219.3) scale(0.85,1)" font-family="Liberation Sans, sans-serif" font-size="9.5" font-weight="normal" text-anchor="middle" fill="#1a1a1a">o<tspan font-size='6' dy='1.5'>1</tspan></text>
<line x1="446.0" y1="239.8" x2="490.0" y2="239.8" stroke="#1a1a1a" stroke-width="0.7"/>
<path d="M465.8 239.8 L456.8 241.4 L456.8 238.2 Z" fill="#1a1a1a"/>
<path d="M470.8 239.8 L479.8 238.2 L479.8 241.4 Z" fill="#1a1a1a"/>
<text transform="translate(482.5,237.3) scale(0.85,1)" font-family="Liberation Sans, sans-serif" font-size="9.5" font-weight="normal" text-anchor="middle" fill="#1a1a1a">o<tspan font-size='6' dy='1.5'>2</tspan></text>
<circle cx="159.4" cy="300.6" r="40.0" stroke="#1a1a1a" stroke-width="2.1" fill="#fff"/>
<circle cx="159.4" cy="300.6" r="32.4" stroke="#1a1a1a" stroke-width="0.9" fill="none" stroke-dasharray="16 6"/>
<circle cx="159.4" cy="300.6" r="27.3" stroke="#1a1a1a" stroke-width="0.9" fill="none"/>
<circle cx="159.4" cy="300.6" r="12.8" stroke="#1a1a1a" stroke-width="0.9" fill="none"/>
<circle cx="159.4" cy="300.6" r="7.0" stroke="#1a1a1a" stroke-width="0.9" fill="none"/>
<path d="M157.20000000000002 293.90000000000003 L157.20000000000002 291.8 L161.6 291.8 L161.6 293.90000000000003" stroke="#1a1a1a" stroke-width="0.9" fill="none" />
<line x1="114.4" y1="300.6" x2="217.4" y2="300.6" stroke="#1a1a1a" stroke-width="0.75" stroke-dasharray="6 2 1.5 2"/>
<line x1="159.4" y1="253.6" x2="159.4" y2="348.6" stroke="#1a1a1a" stroke-width="0.75" stroke-dasharray="6 2 1.5 2"/>
<circle cx="136.4" cy="277.6" r="2.3" stroke="#1a1a1a" stroke-width="0.9" fill="#fff"/>
<line x1="134.8" y1="276.0" x2="138.0" y2="279.2" stroke="#1a1a1a" stroke-width="0.6"/>
<line x1="134.8" y1="279.2" x2="138.0" y2="276.0" stroke="#1a1a1a" stroke-width="0.6"/>
<circle cx="181.4" cy="277.6" r="2.3" stroke="#1a1a1a" stroke-width="0.9" fill="#fff"/>
<line x1="179.8" y1="276.0" x2="183.0" y2="279.2" stroke="#1a1a1a" stroke-width="0.6"/>
<line x1="179.8" y1="279.2" x2="183.0" y2="276.0" stroke="#1a1a1a" stroke-width="0.6"/>
<circle cx="136.4" cy="323.0" r="2.3" stroke="#1a1a1a" stroke-width="0.9" fill="#fff"/>
<line x1="134.8" y1="321.4" x2="138.0" y2="324.6" stroke="#1a1a1a" stroke-width="0.6"/>
<line x1="134.8" y1="324.6" x2="138.0" y2="321.4" stroke="#1a1a1a" stroke-width="0.6"/>
<circle cx="181.4" cy="323.0" r="2.3" stroke="#1a1a1a" stroke-width="0.9" fill="#fff"/>
<line x1="179.8" y1="321.4" x2="183.0" y2="324.6" stroke="#1a1a1a" stroke-width="0.6"/>
<line x1="179.8" y1="324.6" x2="183.0" y2="321.4" stroke="#1a1a1a" stroke-width="0.6"/>
<line x1="177.0" y1="275.0" x2="142.0" y2="326.0" stroke="#1a1a1a" stroke-width="0.8"/>
<path d="M177.0 275.0 L173.2 283.3 L170.6 281.5 Z" fill="#1a1a1a"/>
<path d="M142.0 326.0 L145.8 317.7 L148.4 319.5 Z" fill="#1a1a1a"/>
<text transform="translate(146.0,313.0) rotate(-55) scale(0.85,1)" font-family="Liberation Sans, sans-serif" font-size="9" font-weight="normal" text-anchor="middle" fill="#1a1a1a">D</text>
<line x1="114.0" y1="254.4" x2="159.4" y2="254.4" stroke="#1a1a1a" stroke-width="0.6"/>
<line x1="134.4" y1="250.0" x2="134.4" y2="277.0" stroke="#1a1a1a" stroke-width="0.6"/>
<line x1="138.4" y1="250.0" x2="138.4" y2="277.0" stroke="#1a1a1a" stroke-width="0.6"/>
<path d="M134.4 254.4 L125.4 256.0 L125.4 252.8 Z" fill="#1a1a1a"/>
<path d="M138.4 254.4 L147.4 252.8 L147.4 256.0 Z" fill="#1a1a1a"/>
<text transform="translate(137.5,250.0) scale(0.8,1)" font-family="Liberation Sans, sans-serif" font-size="11" font-weight="normal" text-anchor="middle" fill="#1a1a1a">4-s</text>
<text transform="translate(147.5,372.0) scale(0.82,1)" font-family="Liberation Sans, sans-serif" font-size="12.5" font-weight="normal" text-anchor="middle" fill="#1a1a1a">SAF37-87</text>
<circle cx="315.0" cy="301.0" r="40.0" stroke="#1a1a1a" stroke-width="2.1" fill="#fff"/>
<circle cx="315" cy="301" r="32.4" stroke="#1a1a1a" stroke-width="0.9" fill="none" stroke-dasharray="16 6"/>
<circle cx="315.0" cy="301.0" r="27.3" stroke="#1a1a1a" stroke-width="0.9" fill="none"/>
<circle cx="315.0" cy="301.0" r="12.8" stroke="#1a1a1a" stroke-width="0.9" fill="none"/>
<circle cx="315.0" cy="301.0" r="7.0" stroke="#1a1a1a" stroke-width="0.9" fill="none"/>
<path d="M312.8 294.3 L312.8 292.2 L317.2 292.2 L317.2 294.3" stroke="#1a1a1a" stroke-width="0.9" fill="none" />
<line x1="275.0" y1="301.0" x2="355.0" y2="301.0" stroke="#1a1a1a" stroke-width="0.75" stroke-dasharray="18 2"/>
<line x1="315.0" y1="254.0" x2="315.0" y2="349.0" stroke="#1a1a1a" stroke-width="0.75" stroke-dasharray="18 2"/>
<circle cx="345.3" cy="313.6" r="2.4" stroke="#1a1a1a" stroke-width="0.9" fill="#fff"/>
<circle cx="327.6" cy="331.3" r="2.4" stroke="#1a1a1a" stroke-width="0.9" fill="#fff"/>
<circle cx="302.4" cy="331.3" r="2.4" stroke="#1a1a1a" stroke-width="0.9" fill="#fff"/>
<circle cx="284.7" cy="313.6" r="2.4" stroke="#1a1a1a" stroke-width="0.9" fill="#fff"/>
<circle cx="284.7" cy="288.4" r="2.4" stroke="#1a1a1a" stroke-width="0.9" fill="#fff"/>
<circle cx="302.4" cy="270.7" r="2.4" stroke="#1a1a1a" stroke-width="0.9" fill="#fff"/>
<circle cx="327.6" cy="270.7" r="2.4" stroke="#1a1a1a" stroke-width="0.9" fill="#fff"/>
<circle cx="345.3" cy="288.4" r="2.4" stroke="#1a1a1a" stroke-width="0.9" fill="#fff"/>
<line x1="281.0" y1="262.0" x2="350.0" y2="339.6" stroke="#1a1a1a" stroke-width="0.9"/>
<rect x="-3.6" y="-1.6" width="7.2" height="3.2" rx="1.6" transform="translate(307.5,282.5) rotate(-40)" fill="none" stroke="#1a1a1a" stroke-width="0.8"/>
<circle cx="288.3" cy="271.0" r="2.0" stroke="#1a1a1a" stroke-width="0" fill="#1a1a1a"/>
<circle cx="342.0" cy="331.2" r="2.0" stroke="#1a1a1a" stroke-width="0" fill="#1a1a1a"/>
<line x1="281.0" y1="254.6" x2="324.0" y2="254.6" stroke="#1a1a1a" stroke-width="0.6"/>
<line x1="301.0" y1="250.0" x2="301.0" y2="271.0" stroke="#1a1a1a" stroke-width="0.6"/>
<line x1="305.0" y1="250.0" x2="305.0" y2="271.0" stroke="#1a1a1a" stroke-width="0.6"/>
<path d="M301.0 254.6 L292.0 256.2 L292.0 253.0 Z" fill="#1a1a1a"/>
<path d="M305.0 254.6 L314.0 253.0 L314.0 256.2 Z" fill="#1a1a1a"/>
<text transform="translate(303.0,250.0) scale(0.8,1)" font-family="Liberation Sans, sans-serif" font-size="11" font-weight="normal" text-anchor="middle" fill="#1a1a1a">8-s</text>
<text transform="translate(312.5,370.6) scale(0.76,1)" font-family="Liberation Sans, sans-serif" font-size="12.5" font-weight="normal" text-anchor="middle" fill="#1a1a1a">SAF97</text>
<defs><pattern id="hatch" patternUnits="userSpaceOnUse" width="3.6" height="3.6" patternTransform="rotate(45)"><line x1="0" y1="0" x2="0" y2="3.6" stroke="#222" stroke-width="1.3"/></pattern></defs>
<text transform="translate(98.8,417.8) scale(0.69,1)" font-family="Liberation Serif, serif" font-size="16" font-weight="normal" text-anchor="start" fill="#1a1a1a">较大孔径</text>
<path d="M119 461.5 L135.2 461.5 L135.2 458.4 L160.5 458.4 L160.5 461.5 L179 461.5 L179 467 L119 467 Z" stroke="#1a1a1a" stroke-width="1.5" fill="url(#hatch)" />
<path d="M119 489.2 L135.2 489.2 L135.2 493 L160.5 493 L160.5 489.2 L179 489.2 L179 482.8 L119 482.8 Z" stroke="#1a1a1a" stroke-width="1.5" fill="url(#hatch)" />
<line x1="119.0" y1="467.0" x2="119.0" y2="482.8" stroke="#1a1a1a" stroke-width="1.5"/>
<line x1="179.0" y1="467.0" x2="179.0" y2="482.8" stroke="#1a1a1a" stroke-width="1.5"/>
<line x1="126.4" y1="467.0" x2="126.4" y2="482.8" stroke="#1a1a1a" stroke-width="0.8"/>
<line x1="171.6" y1="467.0" x2="171.6" y2="482.8" stroke="#1a1a1a" stroke-width="0.8"/>
<line x1="119.0" y1="474.9" x2="179.0" y2="474.9" stroke="#1a1a1a" stroke-width="0.9"/>
<line x1="149.5" y1="446.0" x2="149.5" y2="496.0" stroke="#1a1a1a" stroke-width="0.6"/>
<line x1="119.0" y1="445.8" x2="119.0" y2="514.0" stroke="#1a1a1a" stroke-width="0.6"/>
<line x1="179.0" y1="445.8" x2="179.0" y2="514.0" stroke="#1a1a1a" stroke-width="0.6"/>
<line x1="126.4" y1="482.0" x2="126.4" y2="514.0" stroke="#1a1a1a" stroke-width="0.6"/>
<line x1="171.6" y1="482.0" x2="171.6" y2="514.0" stroke="#1a1a1a" stroke-width="0.6"/>
<line x1="119.0" y1="449.5" x2="179.0" y2="449.5" stroke="#1a1a1a" stroke-width="0.7"/>
<path d="M119.3 449.5 L128.3 447.9 L128.3 451.1 Z" fill="#1a1a1a"/>
<path d="M149.2 449.5 L140.2 451.1 L140.2 447.9 Z" fill="#1a1a1a"/>
<path d="M149.8 449.5 L158.8 447.9 L158.8 451.1 Z" fill="#1a1a1a"/>
<path d="M178.7 449.5 L169.7 451.1 L169.7 447.9 Z" fill="#1a1a1a"/>
<text transform="translate(133.8,446.5) scale(0.95,1)" font-family="Liberation Sans, sans-serif" font-size="8.5" font-weight="normal" text-anchor="middle" fill="#1a1a1a">w</text>
<text transform="translate(164.2,446.5) scale(0.95,1)" font-family="Liberation Sans, sans-serif" font-size="8.5" font-weight="normal" text-anchor="middle" fill="#1a1a1a">w</text>
<line x1="179.0" y1="461.5" x2="217.0" y2="461.5" stroke="#1a1a1a" stroke-width="0.6"/>
<line x1="179.0" y1="489.4" x2="217.0" y2="489.4" stroke="#1a1a1a" stroke-width="1.0"/>
<line x1="171.6" y1="482.8" x2="200.0" y2="482.8" stroke="#1a1a1a" stroke-width="0.6"/>
<line x1="212.4" y1="442.3" x2="212.4" y2="509.0" stroke="#1a1a1a" stroke-width="0.7"/>
<path d="M212.4 461.2 L210.8 452.2 L214.0 452.2 Z" fill="#1a1a1a"/>
<path d="M212.4 489.5 L214.0 498.5 L210.8 498.5 Z" fill="#1a1a1a"/>
<text transform="translate(209.0,475.8) rotate(-90) scale(0.85,1)" font-family="Liberation Sans, sans-serif" font-size="9.5" font-weight="normal" text-anchor="middle" fill="#1a1a1a">d<tspan font-size='6' dy='1.5'>3</tspan></text>
<line x1="193.9" y1="468.0" x2="193.9" y2="537.7" stroke="#1a1a1a" stroke-width="0.7"/>
<path d="M193.9 485.6 L195.5 494.6 L192.3 494.6 Z" fill="#1a1a1a"/>
<text transform="translate(191.0,527.2) rotate(-90) scale(0.95,1)" font-family="Liberation Sans, sans-serif" font-size="10" font-weight="normal" text-anchor="middle" fill="#1a1a1a">d<tspan font-family='Liberation Serif, serif'>I</tspan> H7</text>
<line x1="99.6" y1="510.0" x2="146.7" y2="510.0" stroke="#1a1a1a" stroke-width="0.7"/>
<path d="M118.7 510.0 L109.7 511.6 L109.7 508.4 Z" fill="#1a1a1a"/>
<path d="M126.7 510.0 L135.7 508.4 L135.7 511.6 Z" fill="#1a1a1a"/>
<line x1="151.3" y1="510.0" x2="198.0" y2="510.0" stroke="#1a1a1a" stroke-width="0.7"/>
<path d="M171.3 510.0 L162.3 511.6 L162.3 508.4 Z" fill="#1a1a1a"/>
<path d="M179.3 510.0 L188.3 508.4 L188.3 511.6 Z" fill="#1a1a1a"/>
<text transform="translate(108.0,507.0) scale(0.85,1)" font-family="Liberation Sans, sans-serif" font-size="9.5" font-weight="normal" text-anchor="middle" fill="#1a1a1a">c<tspan font-size='6' dy='1.5'>1</tspan></text>
<text transform="translate(159.6,507.0) scale(0.85,1)" font-family="Liberation Sans, sans-serif" font-size="9.5" font-weight="normal" text-anchor="middle" fill="#1a1a1a">c<tspan font-size='6' dy='1.5'>1</tspan></text>
<circle cx="275.6" cy="475.4" r="10.8" stroke="url(#hatch)" stroke-width="6.4" fill="none"/>
<circle cx="275.6" cy="475.4" r="14.0" stroke="#1a1a1a" stroke-width="1.9" fill="none"/>
<path d="M269.2 479 A7.3 7.3 0 0 1 279.5 469.2 L282.6 472.6 L282.6 478 L279 482 A7.3 7.3 0 0 1 269.2 479 Z" stroke="#1a1a1a" stroke-width="1.1" fill="#fff" />
<line x1="266.5" y1="475.4" x2="284.5" y2="475.4" stroke="#1a1a1a" stroke-width="0.6"/>
<line x1="275.6" y1="466.5" x2="275.6" y2="484.5" stroke="#1a1a1a" stroke-width="0.6"/>
<line x1="253.5" y1="451.5" x2="296.5" y2="451.5" stroke="#1a1a1a" stroke-width="0.7"/>
<path d="M273.5 451.5 L264.5 453.1 L264.5 449.9 Z" fill="#1a1a1a"/>
<path d="M277.3 451.5 L286.3 449.9 L286.3 453.1 Z" fill="#1a1a1a"/>
<line x1="273.5" y1="447.0" x2="273.5" y2="462.0" stroke="#1a1a1a" stroke-width="0.6"/>
<line x1="277.3" y1="447.0" x2="277.3" y2="462.0" stroke="#1a1a1a" stroke-width="0.6"/>
<text transform="translate(289.5,448.0) scale(0.85,1)" font-family="Liberation Sans, sans-serif" font-size="9.5" font-weight="normal" text-anchor="middle" fill="#1a1a1a">u<tspan font-family='Liberation Serif, serif'>I</tspan></text>
<line x1="242.0" y1="465.8" x2="264.0" y2="465.8" stroke="#1a1a1a" stroke-width="0.6"/>
<line x1="242.0" y1="483.0" x2="264.0" y2="483.0" stroke="#1a1a1a" stroke-width="0.6"/>
<line x1="246.5" y1="447.0" x2="246.5" y2="498.5" stroke="#1a1a1a" stroke-width="0.7"/>
<path d="M246.5 465.5 L244.9 456.5 L248.1 456.5 Z" fill="#1a1a1a"/>
<path d="M246.5 483.3 L248.1 492.3 L244.9 492.3 Z" fill="#1a1a1a"/>
<text transform="translate(243.0,475.4) rotate(-90) scale(0.85,1)" font-family="Liberation Sans, sans-serif" font-size="9.5" font-weight="normal" text-anchor="middle" fill="#1a1a1a">t<tspan font-family='Liberation Serif, serif'>I</tspan></text>
<text transform="translate(354.6,417.8) scale(0.69,1)" font-family="Liberation Serif, serif" font-size="15.5" font-weight="normal" text-anchor="start" fill="#1a1a1a">较小孔径</text>
<path d="M373 452.6 L389.3 452.6 L389.3 449.5 L415.1 449.5 L415.1 452.6 L433.2 452.6 L433.2 458.7 L373 458.7 Z" stroke="#1a1a1a" stroke-width="1.5" fill="url(#hatch)" />
<path d="M373 480.3 L389.3 480.3 L389.3 484 L415.1 484 L415.1 480.3 L433.2 480.3 L433.2 473.8 L373 473.8 Z" stroke="#1a1a1a" stroke-width="1.5" fill="url(#hatch)" />
<line x1="373.0" y1="458.7" x2="373.0" y2="473.8" stroke="#1a1a1a" stroke-width="1.5"/>
<line x1="433.2" y1="458.7" x2="433.2" y2="473.8" stroke="#1a1a1a" stroke-width="1.5"/>
<line x1="381.0" y1="458.7" x2="381.0" y2="473.8" stroke="#1a1a1a" stroke-width="0.8"/>
<line x1="426.0" y1="458.7" x2="426.0" y2="473.8" stroke="#1a1a1a" stroke-width="0.8"/>
<line x1="373.0" y1="466.2" x2="433.2" y2="466.2" stroke="#1a1a1a" stroke-width="0.9"/>
<line x1="403.7" y1="437.0" x2="403.7" y2="490.0" stroke="#1a1a1a" stroke-width="0.6"/>
<line x1="373.0" y1="437.0" x2="373.0" y2="506.0" stroke="#1a1a1a" stroke-width="0.6"/>
<line x1="433.2" y1="437.0" x2="433.2" y2="506.0" stroke="#1a1a1a" stroke-width="0.6"/>
<line x1="381.0" y1="474.0" x2="381.0" y2="506.0" stroke="#1a1a1a" stroke-width="0.6"/>
<line x1="426.0" y1="474.0" x2="426.0" y2="506.0" stroke="#1a1a1a" stroke-width="0.6"/>
<line x1="373.0" y1="441.5" x2="433.2" y2="441.5" stroke="#1a1a1a" stroke-width="0.7"/>
<path d="M373.3 441.5 L382.3 439.9 L382.3 443.1 Z" fill="#1a1a1a"/>
<path d="M403.4 441.5 L394.4 443.1 L394.4 439.9 Z" fill="#1a1a1a"/>
<path d="M404.0 441.5 L413.0 439.9 L413.0 443.1 Z" fill="#1a1a1a"/>
<path d="M432.9 441.5 L423.9 443.1 L423.9 439.9 Z" fill="#1a1a1a"/>
<text transform="translate(388.4,438.5) scale(0.95,1)" font-family="Liberation Sans, sans-serif" font-size="8.5" font-weight="normal" text-anchor="middle" fill="#1a1a1a">w</text>
<text transform="translate(418.8,438.5) scale(0.95,1)" font-family="Liberation Sans, sans-serif" font-size="8.5" font-weight="normal" text-anchor="middle" fill="#1a1a1a">w</text>
<line x1="433.2" y1="452.6" x2="472.0" y2="452.6" stroke="#1a1a1a" stroke-width="0.6"/>
<line x1="433.2" y1="479.9" x2="472.0" y2="479.9" stroke="#1a1a1a" stroke-width="0.6"/>
<line x1="426.0" y1="473.8" x2="450.0" y2="473.8" stroke="#1a1a1a" stroke-width="0.6"/>
<line x1="466.8" y1="433.7" x2="466.8" y2="499.7" stroke="#1a1a1a" stroke-width="0.7"/>
<path d="M466.8 452.3 L465.2 443.3 L468.4 443.3 Z" fill="#1a1a1a"/>
<path d="M466.8 480.2 L468.4 489.2 L465.2 489.2 Z" fill="#1a1a1a"/>
<text transform="translate(463.5,466.7) rotate(-90) scale(0.85,1)" font-family="Liberation Sans, sans-serif" font-size="9.5" font-weight="normal" text-anchor="middle" fill="#1a1a1a">d<tspan font-size='6' dy='1.5'>3</tspan></text>
<line x1="448.2" y1="459.5" x2="448.2" y2="532.0" stroke="#1a1a1a" stroke-width="0.7"/>
<path d="M448.2 473.5 L449.8 482.5 L446.6 482.5 Z" fill="#1a1a1a"/>
<text transform="translate(445.5,517.3) rotate(-90) scale(0.9,1)" font-family="Liberation Sans, sans-serif" font-size="10" font-weight="normal" text-anchor="middle" fill="#1a1a1a">d<tspan font-family='Liberation Serif, serif'>II</tspan> H7</text>
<line x1="354.0" y1="501.2" x2="401.0" y2="501.2" stroke="#1a1a1a" stroke-width="0.7"/>
<path d="M372.7 501.2 L363.7 502.8 L363.7 499.6 Z" fill="#1a1a1a"/>
<path d="M381.3 501.2 L390.3 499.6 L390.3 502.8 Z" fill="#1a1a1a"/>
<line x1="405.0" y1="501.2" x2="452.0" y2="501.2" stroke="#1a1a1a" stroke-width="0.7"/>
<path d="M425.7 501.2 L416.7 502.8 L416.7 499.6 Z" fill="#1a1a1a"/>
<path d="M433.5 501.2 L442.5 499.6 L442.5 502.8 Z" fill="#1a1a1a"/>
<text transform="translate(362.5,498.0) scale(0.85,1)" font-family="Liberation Sans, sans-serif" font-size="9.5" font-weight="normal" text-anchor="middle" fill="#1a1a1a">c<tspan font-size='6' dy='1.5'>1</tspan></text>
<text transform="translate(414.2,498.0) scale(0.85,1)" font-family="Liberation Sans, sans-serif" font-size="9.5" font-weight="normal" text-anchor="middle" fill="#1a1a1a">c<tspan font-size='6' dy='1.5'>1</tspan></text>
<circle cx="520.7" cy="466.2" r="10.8" stroke="url(#hatch)" stroke-width="6.4" fill="none"/>
<circle cx="520.7" cy="466.2" r="14.0" stroke="#1a1a1a" stroke-width="1.9" fill="none"/>
<path d="M514.3 469.8 A7.3 7.3 0 0 1 524.6 460 L527.7 463.4 L527.7 468.8 L524.1 472.8 A7.3 7.3 0 0 1 514.3 469.8 Z" stroke="#1a1a1a" stroke-width="1.1" fill="#fff" />
<line x1="511.6" y1="466.2" x2="529.6" y2="466.2" stroke="#1a1a1a" stroke-width="0.6"/>
<line x1="520.7" y1="457.3" x2="520.7" y2="475.3" stroke="#1a1a1a" stroke-width="0.6"/>
<line x1="499.0" y1="442.2" x2="542.2" y2="442.2" stroke="#1a1a1a" stroke-width="0.7"/>
<path d="M518.5 442.2 L509.5 443.8 L509.5 440.6 Z" fill="#1a1a1a"/>
<path d="M522.7 442.2 L531.7 440.6 L531.7 443.8 Z" fill="#1a1a1a"/>
<line x1="518.5" y1="438.0" x2="518.5" y2="452.3" stroke="#1a1a1a" stroke-width="0.6"/>
<line x1="522.7" y1="438.0" x2="522.7" y2="452.3" stroke="#1a1a1a" stroke-width="0.6"/>
<text transform="translate(533.0,438.5) rotate(-90) scale(0.85,1)" font-family="Liberation Sans, sans-serif" font-size="9.5" font-weight="normal" text-anchor="middle" fill="#1a1a1a">u<tspan font-family='Liberation Serif, serif'>II</tspan></text>
<line x1="487.0" y1="457.7" x2="507.5" y2="457.7" stroke="#1a1a1a" stroke-width="0.6"/>
<line x1="487.0" y1="474.0" x2="507.5" y2="474.0" stroke="#1a1a1a" stroke-width="0.6"/>
<line x1="491.4" y1="438.0" x2="491.4" y2="493.8" stroke="#1a1a1a" stroke-width="0.7"/>
<path d="M491.4 457.4 L489.8 448.4 L493.0 448.4 Z" fill="#1a1a1a"/>
<path d="M491.4 474.3 L493.0 483.3 L489.8 483.3 Z" fill="#1a1a1a"/>
<text transform="translate(486.0,465.8) rotate(-90) scale(0.85,1)" font-family="Liberation Sans, sans-serif" font-size="9.5" font-weight="normal" text-anchor="middle" fill="#1a1a1a">t<tspan font-family='Liberation Serif, serif'>II</tspan></text>
</svg>
</body></html>
